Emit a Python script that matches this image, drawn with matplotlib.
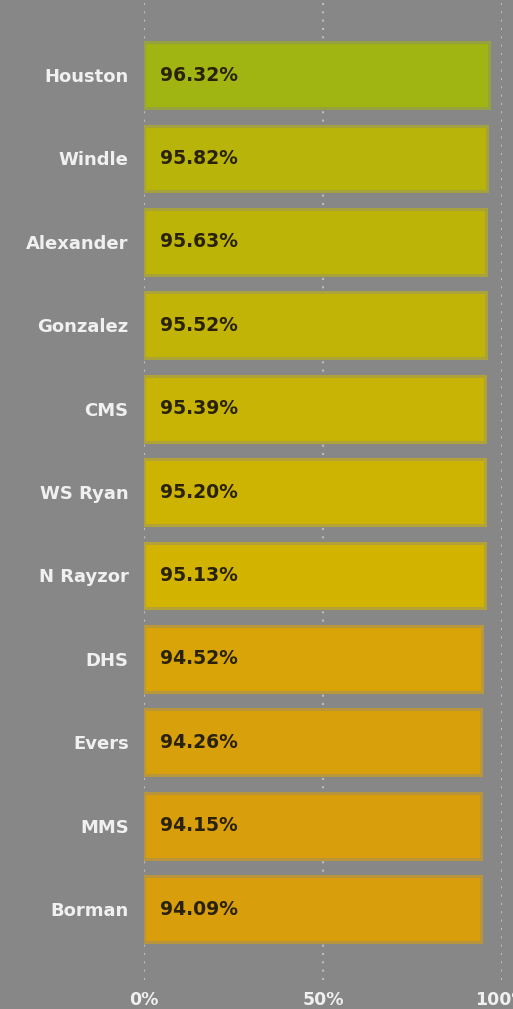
import matplotlib
matplotlib.use('Agg')
import matplotlib.pyplot as plt
import matplotlib.colors as mcolors
import numpy as np

schools = ['Houston', 'Windle', 'Alexander', 'Gonzalez', 'CMS', 'WS Ryan',
           'N Rayzor', 'DHS', 'Evers', 'MMS', 'Borman']
rates = [96.32, 95.82, 95.63, 95.52, 95.39, 95.20, 95.13, 94.52, 94.26, 94.15, 94.09]
bar_colors = ['#a0b412', '#b8b40a', '#bdb408', '#c2b406', '#c8b404', '#ceb402',
              '#d2b400', '#d8a408', '#d8a00a', '#d89e0c', '#d89e0c']
xticks = [0, 50, 100]
xtick_labels = ['0%', '50%', '100%']

BG = '#878787'
fig = plt.figure(figsize=(5.13, 10.09), dpi=100, facecolor=BG)
ax = fig.add_axes([144 / 513, 29 / 1009, 358 / 513, 980 / 1009])
ax.set_facecolor(BG)

y = np.arange(len(schools))
# bar outline: bar colour blended toward the background
edge = [mcolors.to_hex(0.6 * np.array(mcolors.to_rgb(c)) + 0.4 * np.array(mcolors.to_rgb(BG)))
        for c in bar_colors]
ax.barh(y, rates, height=0.79, color=bar_colors, edgecolor=edge, linewidth=2.2, zorder=2)

for yi, v in zip(y, rates):
    ax.text(4.6, yi, f'{v:.2f}%', va='center', ha='left', fontsize=13.5,
            fontweight='bold', color='#2a2205', zorder=3)

ax.set_xlim(0, 100)
ax.set_ylim(10.85, -0.9)
ax.set_yticks(y)
ax.set_yticklabels(schools, fontsize=13, fontweight='bold', color='#f0f0f0')
ax.set_xticks(xticks)
ax.set_xticklabels(xtick_labels, fontsize=12.5, fontweight='bold', color='#f0f0f0')
ax.tick_params(axis='both', length=0)
ax.tick_params(axis='y', pad=11)
ax.tick_params(axis='x', pad=8)
ax.grid(axis='x', color='#bdbdbd', linestyle=(0, (1, 3)), linewidth=1.5, zorder=1)
for s in ax.spines.values():
    s.set_visible(False)

fig.savefig('out.png', dpi=100, facecolor=BG)
